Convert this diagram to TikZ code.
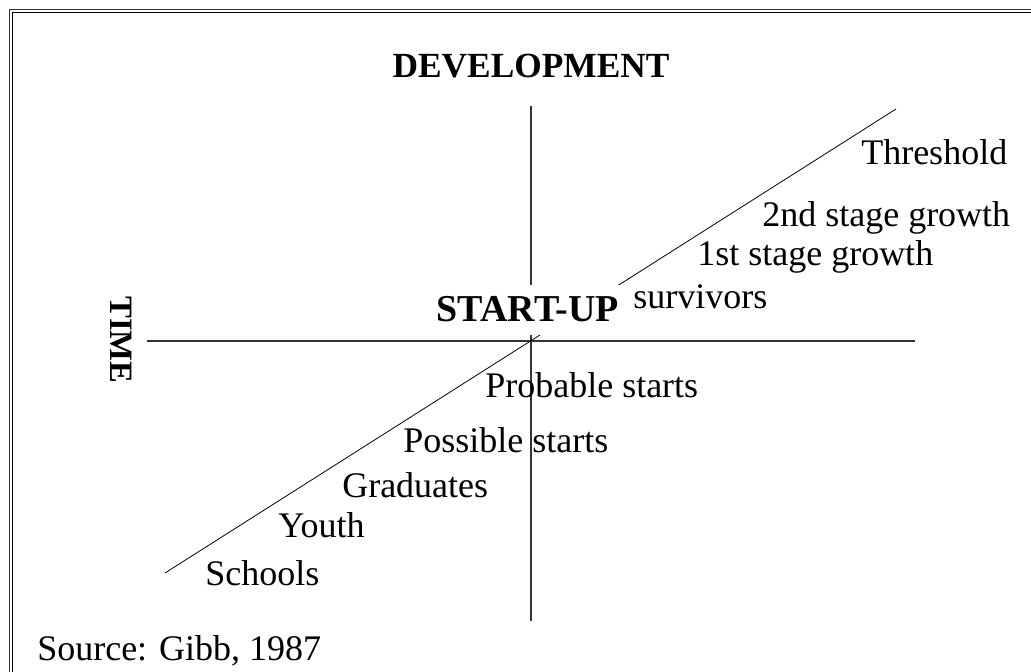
\documentclass[tikz,border=0pt]{standalone}
\usepackage{fontspec}
\setmainfont{Liberation Serif}
\begin{document}
\begin{tikzpicture}[x=0.75pt,y=-0.75pt,
  lbl/.style={anchor=base west,inner sep=0pt,font=\fontsize{27}{30}\selectfont},
  hdr/.style={inner sep=0pt,font=\fontsize{26.5}{30}\selectfont\bfseries},
  axis/.style={line width=0.9pt,draw=black!80},
  diag/.style={line width=0.6pt}]
\useasboundingbox (0,0) rectangle (1031,671);
% frame
\draw[line width=1.1pt,draw=black!80] (9.5,9.5) rectangle (1045,685);
\draw[line width=0.6pt] (12.5,12.5) rectangle (1042,682);
% axes
\coordinate (vt) at (531,106);
\coordinate (vb) at (531,621);
\coordinate (hl) at (147,341);
\coordinate (hr) at (915,341);
\draw[axis] (vt) -- (vb);
\draw[axis] (hl) -- (hr);
% diagonal
\coordinate (d1) at (165,573);
\coordinate (d4) at (896,109);
\draw[diag] (d1) -- (d4);
% headings
\node[hdr,anchor=base] (dev) at (531,77) {DEVELOPMENT};
\node[anchor=base,fill=white,inner xsep=4pt,inner ysep=0pt,text height=27pt,text depth=10.5pt,
      font=\fontsize{28.5}{30}\selectfont\bfseries] (start) at (528,321) {START-UP};
\node[hdr,rotate=-90,font=\fontsize{24.5}{26}\selectfont\bfseries] (time) at (121,340) {TIME};
% labels
\node[lbl] (thr) at (861,164) {Threshold};
\node[lbl] (g2) at (762,226) {2nd stage growth};
\node[lbl] (g1) at (697,265) {1st stage growth};
\node[lbl] (surv) at (633,308) {survivors};
\node[lbl] (prob) at (485,397) {Probable starts};
\node[lbl] (poss) at (403,452) {Possible starts};
\node[lbl] (grad) at (342,497) {Graduates};
\node[lbl] (youth) at (278,537) {Youth};
\node[lbl] (sch) at (205,585) {Schools};
\node[lbl] (src) at (37,660) {Source: Gibb, 1987};
\end{tikzpicture}
\end{document}
